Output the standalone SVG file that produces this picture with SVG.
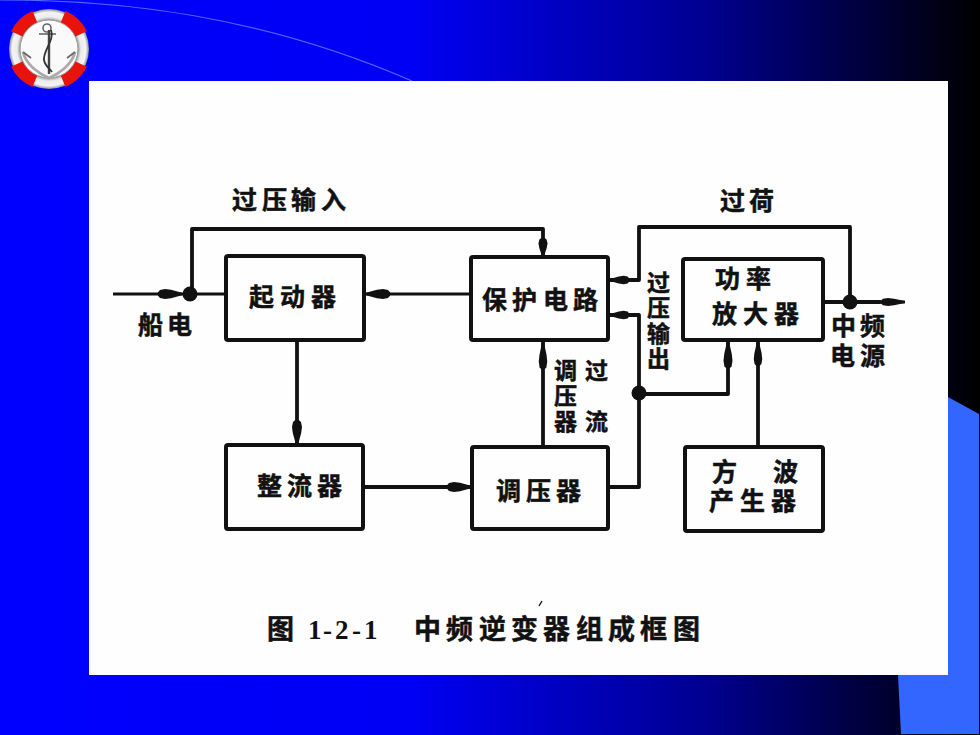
<svg xmlns="http://www.w3.org/2000/svg" width="980" height="735" viewBox="0 0 980 735">
<style>
.box{fill:none;stroke:#111;stroke-width:4;stroke-linejoin:round}
.wire{fill:none;stroke:#111;stroke-width:3.8;stroke-linejoin:round;stroke-linecap:round}
.thin{fill:none;stroke:#111;stroke-width:2.8}
.dot{fill:#111}
.t{font-family:"Noto Sans CJK SC","Noto Sans CJK JP",sans-serif;font-weight:700;fill:#111;stroke:#111;stroke-width:.5}
.s23{font-size:23px}.s25{font-size:25px}.s27{font-size:27px}
.n{font-family:"Liberation Serif",serif;font-weight:700;font-size:27px;fill:#111}
</style>
<defs>
<linearGradient id="bg" x1="0" y1="0" x2="1" y2="0">
<stop offset="0" stop-color="#0000ff"/><stop offset=".42" stop-color="#0000f4"/><stop offset=".72" stop-color="#000090"/><stop offset="1" stop-color="#000000"/>
</linearGradient>
<radialGradient id="ringW" cx=".5" cy=".5" r=".5">
<stop offset=".72" stop-color="#9a9a9a"/><stop offset=".8" stop-color="#ececec"/><stop offset=".92" stop-color="#f4f4f4"/><stop offset="1" stop-color="#8a8a8a"/>
</radialGradient>
<path id="blob" d="M-24,-1.8 L-22,-4 L-17,-5 L-11,-4.2 L0,-1.2 L0,1.2 L-11,4.2 L-17,5 L-22,4 L-24,1.8Z"/>
</defs>

<rect width="980" height="735" fill="url(#bg)"/>
<polygon points="948,397 979,414 979,734 901,734 898,675 948,675" fill="#3366ff"/>
<path d="M0,0 C120,0 260,15 412,81" fill="none" stroke="#4a66ff" stroke-width="1.2"/>
<rect x="89" y="81" width="859" height="594" fill="#fefefe"/>

<g id="logo">
<circle cx="49" cy="49" r="40" fill="url(#ringW)"/>
<g fill="none" stroke="#e8140c" stroke-width="13">
<path d="M17,34 A35,35 0 0 1 35,17"/>
<path d="M63,17 A35,35 0 0 1 81,34"/>
<path d="M81,64 A35,35 0 0 1 63,81"/>
<path d="M35,81 A35,35 0 0 1 17,64"/>
</g>
<circle cx="49" cy="49" r="29" fill="#fafafa" stroke="#999" stroke-width="1"/>
<g fill="none" stroke="#666" stroke-width="1.6">
<circle cx="47" cy="28" r="4"/>
<path d="M39,34 H56"/>
<path d="M49,30 V74" stroke-width="2.4" stroke="#444"/>
<path d="M23,52 C26,64 38,73 49,78 C60,73 72,64 75,52" stroke-width="3" stroke="#aaa"/>
<path d="M23,52 L31,58 M75,52 L67,58"/>
<path d="M51,30 C55,40 43,50 44,60 C45,66 50,69 52,72" stroke="#333" stroke-width="1.8"/>
</g>
</g>

<g id="connectors">
<path class="thin" d="M113,294 H226"/>
<path class="wire" d="M192,294 V229 H543 V257"/>
<path class="thin" d="M364,294 H471"/>
<path class="wire" d="M297,340 V445"/>
<path class="wire" d="M363,487 H472"/>
<path class="wire" d="M543,447 V340"/>
<path class="wire" d="M608,487 H639 V315 H608"/>
<path class="wire" d="M639,394 H728 V340"/>
<path class="wire" d="M608,280 H639 V227 H850 V302"/>
<path class="wire" d="M823,302 H880"/>
<path class="thin" d="M880,302 H905"/>
<path class="wire" d="M758,447 V340"/>
<circle class="dot" cx="190" cy="294" r="7.5"/>
<circle class="dot" cx="639" cy="393" r="7.5"/>
<circle class="dot" cx="850" cy="302" r="7.5"/>
<use href="#blob" class="dot" transform="translate(182,294)"/>
<use href="#blob" class="dot" transform="translate(366,294) rotate(180)"/>
<use href="#blob" class="dot" transform="translate(543,256) rotate(90) scale(.75,.9)"/>
<use href="#blob" class="dot" transform="translate(297,444) rotate(90)"/>
<use href="#blob" class="dot" transform="translate(471,487)"/>
<use href="#blob" class="dot" transform="translate(543,343) rotate(-90) scale(1.1,.85)"/>
<use href="#blob" class="dot" transform="translate(610,315) rotate(180) scale(.8,.85)"/>
<use href="#blob" class="dot" transform="translate(610,280) rotate(180) scale(.8,.85)"/>
<use href="#blob" class="dot" transform="translate(728,342) rotate(-90) scale(1.1,.9)"/>
<use href="#blob" class="dot" transform="translate(758,342) rotate(-90) scale(1,.85)"/>
<use href="#blob" class="dot" transform="translate(905,302) scale(1,.8)"/>
<path class="thin" d="M539,606 L542,601" style="stroke-width:1.4"/>
</g>

<g id="qidong">
<rect class="box" x="226" y="256" width="138" height="84" rx="2"/>
<text class="t s25" x="249 280 311" y="306">起动器</text>
</g>
<g id="baohu">
<rect class="box" x="471" y="257" width="137" height="83" rx="2"/>
<text class="t s25" x="482 512 543 573" y="309">保护电路</text>
</g>
<g id="gonglv">
<rect class="box" x="683" y="259" width="140" height="81" rx="2"/>
<text class="t s25" x="715 746" y="288">功率</text>
<text class="t s25" x="712 743 774" y="323">放大器</text>
</g>
<g id="zhengliu">
<rect class="box" x="226" y="445" width="137" height="84" rx="2"/>
<text class="t s25" x="257 287 317" y="495">整流器</text>
</g>
<g id="tiaoya">
<rect class="box" x="472" y="447" width="136" height="82" rx="2"/>
<text class="t s25" x="496 526 556" y="500">调压器</text>
</g>
<g id="fangbo">
<rect class="box" x="685" y="447" width="138" height="84" rx="2"/>
<text class="t s25" x="712 773 709 740 771" y="481 481 510 510 510">方波产生器</text>
</g>

<g id="labels">
<text class="t s25" x="232 262 291 321" y="209">过压输入</text>
<text class="t s25" x="720 749" y="210">过荷</text>
<text class="t s25" x="138 167" y="334">船电</text>
<text class="t s25" x="831 860 830 860" y="335 335 365 365">中频电源</text>
<text class="t s23" x="647 647 647 647" y="291 316 342 367">过压输出</text>
<text class="t s23" x="554 585 554 554 585" y="379 379 404 430 430">调过压器流</text>
<text class="t s27" x="267" y="639">图</text>
<text class="n" x="308 323 335 352 364" y="639">1-2-1</text>
<text class="t s27" x="414 446 479 511 543 576 608 640 673" y="639">中频逆变器组成框图</text>
</g>
</svg>
